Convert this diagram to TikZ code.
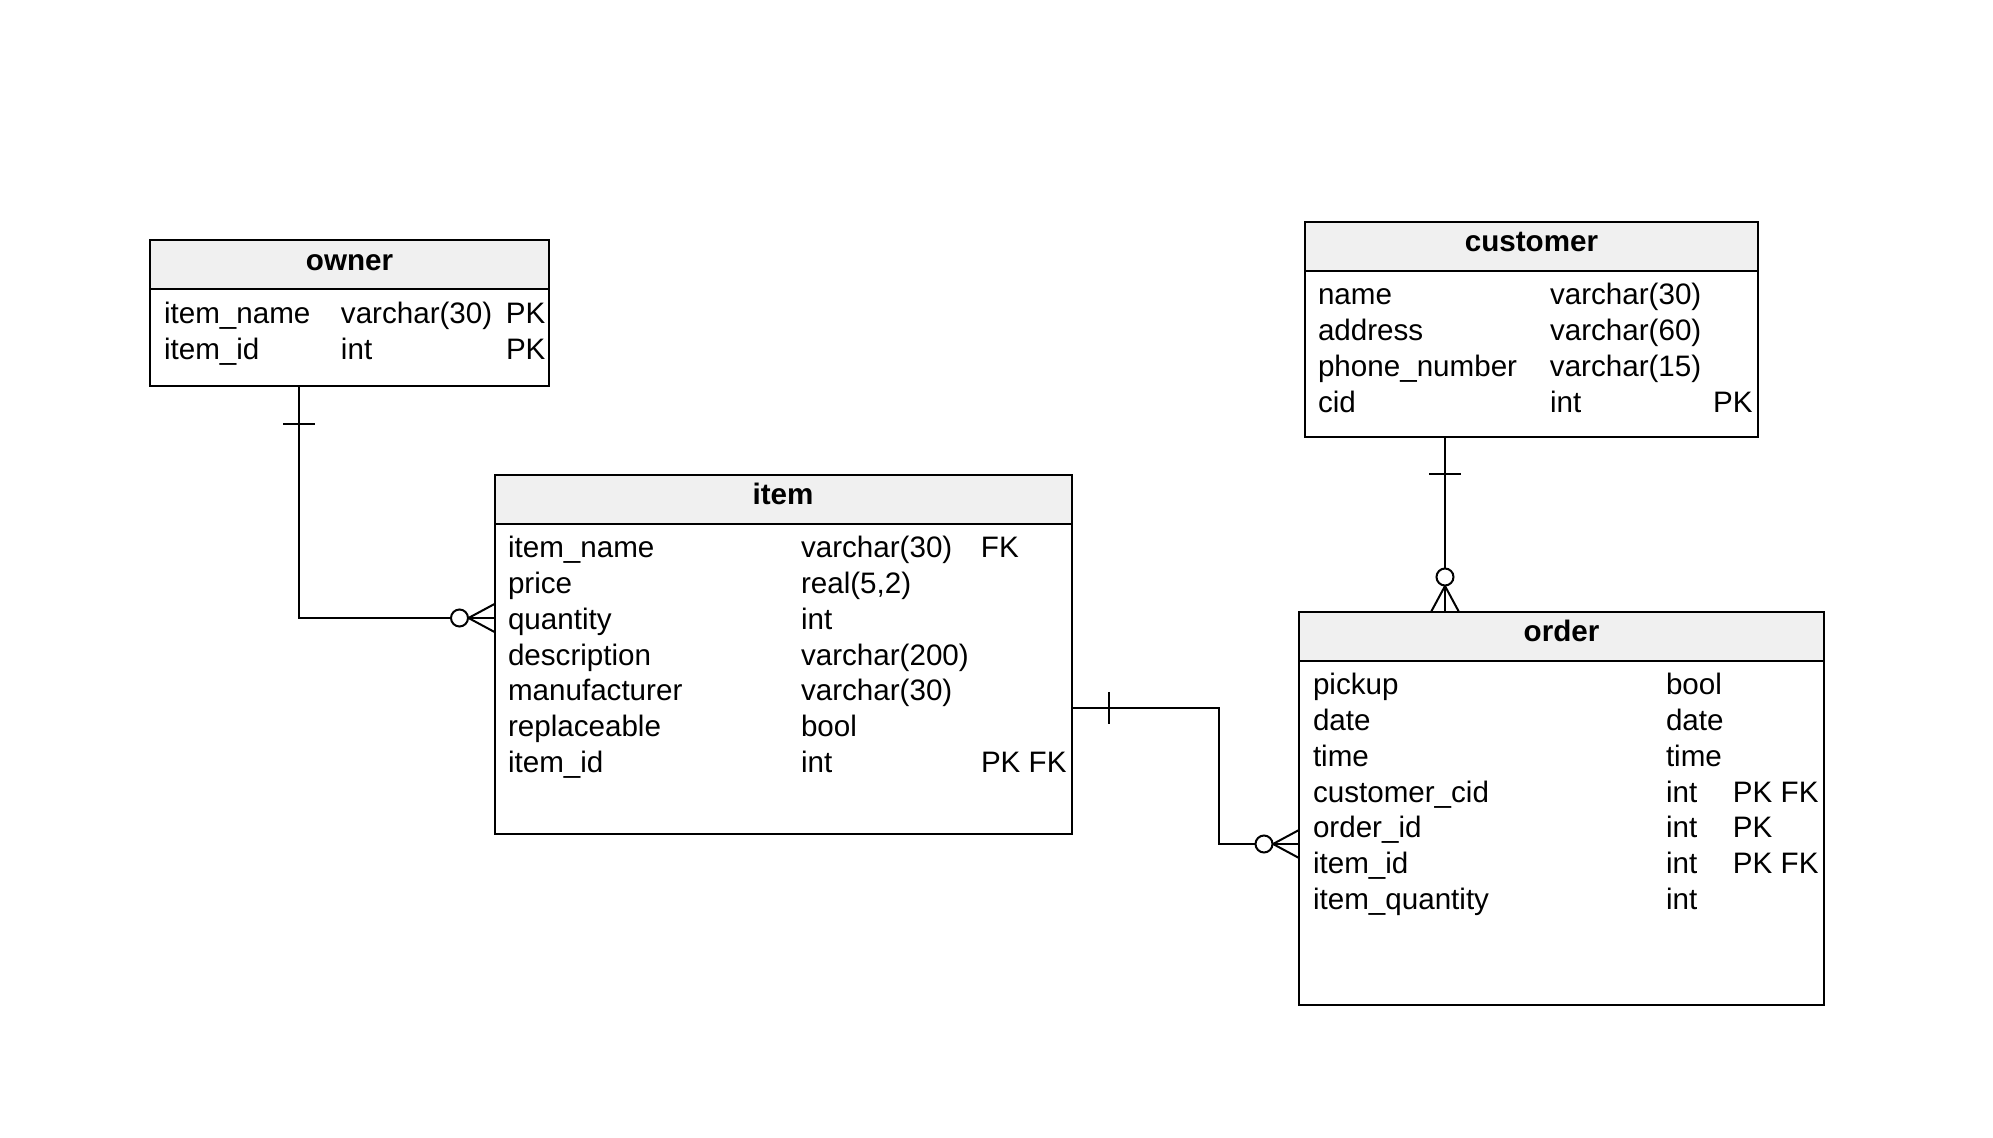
\documentclass[tikz,border=0pt]{standalone}
\usepackage{fontspec}
\setmainfont{Liberation Sans}
\usetikzlibrary{positioning, calc}

\definecolor{headgray}{RGB}{240,240,240}
\setlength{\tabcolsep}{0pt}

\begin{document}
\begin{tikzpicture}[x=0.5pt, y=-0.5pt, line width=1pt,
    tablehead/.style={draw, rectangle, fill=headgray, outer sep=0pt, minimum height=24.5pt,
        font=\fontsize{14.8}{17.85}\selectfont\bfseries, text height=5.5pt, text depth=0pt},
    tablebody/.style={draw, rectangle, outer sep=0pt},
    fields/.style={inner sep=0pt, anchor=north west, font=\fontsize{14.8}{17.85}\selectfont},
    onebar/.pic={\draw (0,-16) -- (0,16);},
    zeromany/.pic={\draw (-26,0) -- (0,-14) (-26,0) -- (0,14);
        \draw[fill=white] (-35,0) circle[radius=8.5];}]
    \useasboundingbox (0,0) rectangle (1993,1138);

    % tables
    \node[tablehead, minimum width=199.5pt] (owner) at (349.5,265) {owner};
    \node[tablebody, minimum width=199.5pt, minimum height=48.5pt, below=0pt of owner] (ownerbody) {};
    \node[fields] (ownerfields) at ($(ownerbody.north west)+(13,8)$) {%
        \begin{tabular}{@{}p{88.5pt}p{82.5pt}l@{}}
        item\_name & varchar(30) & PK\\
        item\_id & int & PK
        \end{tabular}};

    \node[tablehead, minimum width=226.5pt] (customer) at (1531.5,246.5) {customer};
    \node[tablebody, minimum width=226.5pt, minimum height=83pt, below=0pt of customer] (customerbody) {};
    \node[fields] (customerfields) at ($(customerbody.north west)+(12,8)$) {%
        \begin{tabular}{@{}p{116pt}p{81.5pt}l@{}}
        name & varchar(30) & \\
        address & varchar(60) & \\
        phone\_number & varchar(15) & \\
        cid & int & PK
        \end{tabular}};

    \node[tablehead, minimum width=288.5pt] (item) at (783,499.5) {item};
    \node[tablebody, minimum width=288.5pt, minimum height=155pt, below=0pt of item] (itembody) {};
    \node[fields] (itemfields) at ($(itembody.north west)+(12.5,8)$) {%
        \begin{tabular}{@{}p{146.5pt}p{90pt}l@{}}
        item\_name & varchar(30) & FK\\
        price & real(5,2) & \\
        quantity & int & \\
        description & varchar(200) & \\
        manufacturer & varchar(30) & \\
        replaceable & bool & \\
        item\_id & int & PK FK
        \end{tabular}};

    \node[tablehead, minimum width=262.5pt] (order) at (1561.5,636.5) {order};
    \node[tablebody, minimum width=262.5pt, minimum height=172pt, below=0pt of order] (orderbody) {};
    \node[fields] (orderfields) at ($(orderbody.north west)+(13,8)$) {%
        \begin{tabular}{@{}p{176.5pt}p{33.5pt}l@{}}
        pickup & bool & \\
        date & date & \\
        time & time & \\
        customer\_cid & int & PK FK\\
        order\_id & int & PK\\
        item\_id & int & PK FK\\
        item\_quantity & int &
        \end{tabular}};

    % owner -- item
    \coordinate (ownerfk) at ($(ownerbody.south west)+(149,0)$);
    \coordinate (itemin) at ($(itembody.north west)+(0,94)$);
    \draw (ownerfk) |- (itemin);
    \pic[rotate=90] at ($(ownerfk)+(0,38)$) {onebar};
    \pic at (itemin) {zeromany};

    % customer -- order
    \coordinate (custfk) at ($(customerbody.south west)+(140,0)$);
    \coordinate (orderin) at (custfk |- order.north);
    \draw (custfk) -- (orderin);
    \pic[rotate=90] at ($(custfk)+(0,37)$) {onebar};
    \pic[rotate=-90] at (orderin) {zeromany};

    % item -- order
    \coordinate (itemout) at ($(itembody.north east)+(0,184)$);
    \coordinate (orderside) at ($(orderbody.north west)+(0,183)$);
    \draw (itemout) -- ++(147,0) |- (orderside);
    \pic at ($(itemout)+(37,0)$) {onebar};
    \pic at (orderside) {zeromany};
\end{tikzpicture}
\end{document}
